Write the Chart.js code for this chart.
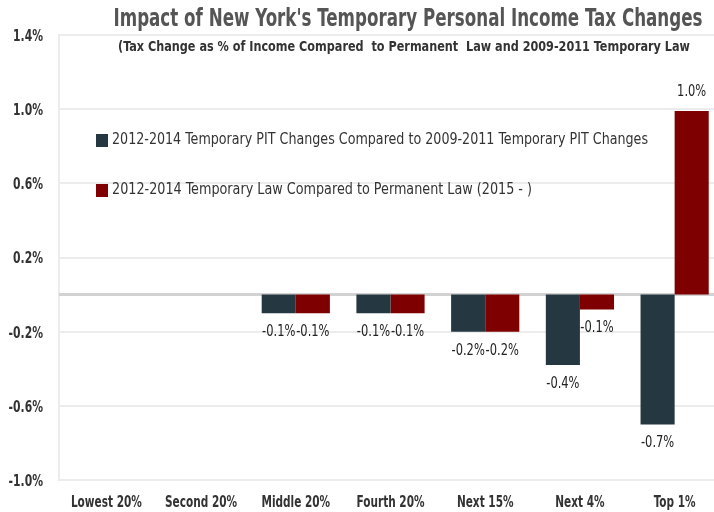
<!DOCTYPE html>
<html lang="en">
<head>
<meta charset="utf-8">
<title>NY Temporary PIT Changes</title>
<script src="https://cdn.jsdelivr.net/npm/chart.js@4.4.0/dist/chart.umd.min.js"></script>
<style>
  html, body { margin: 0; padding: 0; background: #fff; overflow: hidden; }
  #wrap { position: relative; width: 722px; height: 512px; }
</style>
</head>
<body>
<div id="wrap"><canvas id="chart"></canvas></div>
<script>
// data
const categories = ['Lowest 20%', 'Second 20%', 'Middle 20%', 'Fourth 20%', 'Next 15%', 'Next 4%', 'Top 1%'];
const pitVs0911 = [null, null, -0.1, -0.1, -0.2, -0.38, -0.7];
const tempVsPerm = [null, null, -0.1, -0.1, -0.2, -0.08, 0.99];
const seriesNames = [
    '2012-2014 Temporary PIT Changes Compared to 2009-2011 Temporary PIT Changes',
    '2012-2014 Temporary Law Compared to Permanent Law (2015 - )'
];
const yTicks = [-1.0, -0.6, -0.2, 0.2, 0.6, 1.0, 1.4];
const titleText = "Impact of New York's Temporary Personal Income Tax Changes";
const subtitleText = '(Tax Change as % of Income Compared  to Permanent  Law and 2009-2011 Temporary Law';

const FONT = "'DejaVu Sans Condensed', 'DejaVu Sans', sans-serif";
const colors = ['#253841', '#7f0000'];

// the original uses a narrow font, so text is squeezed horizontally
function squeezed (ctx, text, x, y, align, sx) {
    ctx.save();
    ctx.translate(x, y);
    ctx.scale(sx, 1);
    ctx.textAlign = align;
    ctx.fillText(text, 0, 0);
    ctx.restore();
}

function fitWidth (ctx, text, x, y, align, width) {
    squeezed(ctx, text, x, y, align, width / ctx.measureText(text).width);
}

const decorations = {
    id: 'decorations',
    beforeDatasetsDraw (chart) {
        const { ctx, chartArea, scales } = chart;
        const y0 = scales.y.getPixelForValue(0);
        ctx.save();
        ctx.strokeStyle = '#d2d2d2';
        ctx.lineWidth = 3;
        ctx.beginPath();
        ctx.moveTo(chartArea.left, y0);
        ctx.lineTo(chartArea.right, y0);
        ctx.stroke();
        ctx.restore();
    },
    afterDatasetsDraw (chart) {
        const { ctx, chartArea, scales } = chart;
        ctx.save();
        ctx.textBaseline = 'middle';

        // axis labels
        ctx.fillStyle = '#333';
        ctx.font = 'bold 15px ' + FONT;
        yTicks.forEach(v => {
            squeezed(ctx, v.toFixed(1) + '%', 43, scales.y.getPixelForValue(v) + 2, 'right', 0.8);
        });
        categories.forEach((c, i) => {
            squeezed(ctx, c, scales.x.getPixelForValue(i), 503, 'center', 0.78);
        });

        // value labels
        ctx.font = '15px ' + FONT;
        ctx.fillStyle = '#222';
        chart.data.datasets.forEach((ds, i) => {
            chart.getDatasetMeta(i).data.forEach((bar, j) => {
                const v = ds.data[j];
                if (v === null) return;
                const y = v < 0 ? bar.y + 19 : bar.y - 19;
                squeezed(ctx, v.toFixed(1) + '%', bar.x, y, 'center', 0.85);
            });
        });

        // title
        ctx.fillStyle = '#555';
        ctx.font = 'bold 25px ' + FONT;
        fitWidth(ctx, titleText, 408, 19, 'center', 589);
        ctx.fillStyle = '#333';
        ctx.font = 'bold 14px ' + FONT;
        fitWidth(ctx, subtitleText, 404, 47, 'center', 572);

        // legend inside the plot
        ctx.font = '16px ' + FONT;
        const legendWidths = [536, 420];
        chart.data.datasets.forEach((ds, i) => {
            const cy = 140 + i * 50;
            ctx.fillStyle = ds.backgroundColor;
            ctx.fillRect(chartArea.left + 37, cy - 6, 12, 13);
            ctx.fillStyle = '#333';
            fitWidth(ctx, ds.label, chartArea.left + 53, cy, 'left', legendWidths[i]);
        });
        ctx.restore();
    }
};

new Chart(document.getElementById('chart'), {
    type: 'bar',
    data: {
        labels: categories,
        datasets: [
            { label: seriesNames[0], data: pitVs0911, backgroundColor: colors[0] },
            { label: seriesNames[1], data: tempVsPerm, backgroundColor: colors[1] }
        ]
    },
    options: {
        responsive: true,
        maintainAspectRatio: false,
        animation: false,
        layout: { padding: { top: 35, right: 0, left: 59, bottom: 24 } },
        categoryPercentage: 0.72,
        barPercentage: 1.0,
        plugins: {
            legend: { display: false },
            title: { display: false },
            tooltip: { enabled: false }
        },
        scales: {
            x: {
                grid: { display: false },
                border: { display: false },
                ticks: { display: false }
            },
            y: {
                min: -1.0,
                max: 1.4,
                afterBuildTicks: (axis) => { axis.ticks = yTicks.map(v => ({ value: v })); },
                grid: { color: '#ececec', lineWidth: 2, drawTicks: false },
                border: { display: true, color: '#ececec', width: 2 },
                ticks: { display: false }
            }
        }
    },
    plugins: [decorations]
});
</script>
</body>
</html>
